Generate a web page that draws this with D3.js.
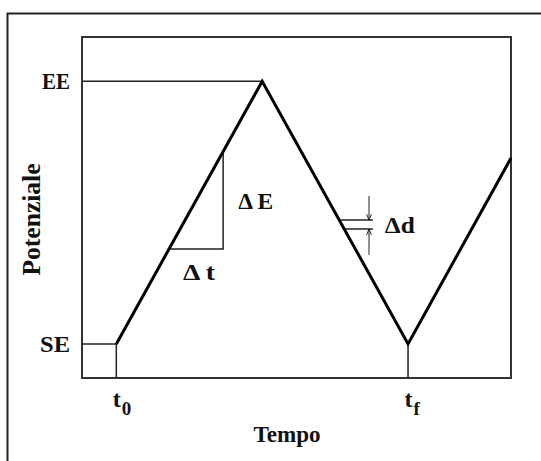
<!DOCTYPE html>
<html>
<head>
<meta charset="utf-8">
<script src="https://cdn.jsdelivr.net/npm/d3@7"></script>
<style>
  body { margin: 0; background: #fff; }
  text { font-family: "Liberation Serif", "DejaVu Serif", serif; font-weight: bold; fill: #111; }
</style>
</head>
<body>
<div id="chart"></div>
<script>
// potential levels (arbitrary units 0-100)
var levels = [10, 87];
var levelNames = ["SE", "EE"];
// time marks (arbitrary units 0-100)
var timeMarks = [8, 76];
var timeSubs = ["0", "f"];
// triangular sweep
var sweepT = [8, 42, 76, 100];
var sweepE = [10, 87, 10, 64.5];
// slope triangle (delta t / delta E)
var stepT = [20.3, 32.9];
var stepE = [37.8, 66.4];
// delta d step marks
var dStartT = [60.0, 61.1];
var dLevels = [46.3, 43.7];
var dEndT = 67.8;
var arrowT = 66.9;
var arrowFrom = [53.4, 36.1];

var margin = {top: 37, right: 30, bottom: 83, left: 82},
    width = 541 - margin.left - margin.right,
    height = 461 - margin.top - margin.bottom;

var x = d3.scaleLinear().domain([0, 100]).range([0, width]);
var y = d3.scaleLinear().domain([0, 100]).range([height, 0]);

var root = d3.select("#chart").append("svg")
    .attr("width", 541)
    .attr("height", 461);

// outer frame (left and top edges)
root.append("path")
    .attr("d", "M7.5,461V13.5H541")
    .attr("fill", "none")
    .attr("stroke", "#222")
    .attr("stroke-width", 2);

root.append("defs").append("marker")
    .attr("id", "arr")
    .attr("viewBox", "0 0 10 10")
    .attr("refX", 10).attr("refY", 5)
    .attr("markerWidth", 6).attr("markerHeight", 6)
    .attr("markerUnits", "userSpaceOnUse")
    .attr("orient", "auto")
  .append("path")
    .attr("d", "M0,1L10,5L0,9")
    .attr("fill", "none")
    .attr("stroke", "#111")
    .attr("stroke-width", 1.5);

var svg = root.append("g")
    .attr("transform", "translate(" + margin.left + "," + margin.top + ")");

// plot box
svg.append("rect")
    .attr("width", width)
    .attr("height", height)
    .attr("fill", "none")
    .attr("stroke", "#333")
    .attr("stroke-width", 2);

// squeezed bold serif text, like the original
function label(sel, size, len) {
  return sel.style("font-size", size + "px")
    .attr("textLength", len)
    .attr("lengthAdjust", "spacingAndGlyphs");
}

// y axis labels SE / EE
var yAxis = svg.append("g")
    .call(d3.axisLeft(y).tickValues(levels).tickSize(0).tickPadding(12)
      .tickFormat(function(d, i) { return levelNames[i]; }));
yAxis.select(".domain").remove();
yAxis.selectAll("text")
    .attr("font-family", null)
    .each(function(d, i) { label(d3.select(this), 23, i ? 28 : 30); });

// x axis labels t0 / tf
var xAxis = svg.append("g")
    .attr("transform", "translate(0," + height + ")")
    .call(d3.axisBottom(x).tickValues(timeMarks).tickSize(0)
      .tickFormat(function() { return ""; }));
xAxis.select(".domain").remove();
xAxis.selectAll("text")
    .attr("font-family", null)
    .attr("text-anchor", "start")
    .attr("x", -4)
    .attr("y", 29).attr("dy", null)
    .style("font-size", "24px")
    .each(function(d, i) {
      var t = d3.select(this);
      t.append("tspan").text("t");
      t.append("tspan").attr("dy", 8).attr("dx", 1).style("font-size", "19px").text(timeSubs[i]);
    });

// reference lines from box to SE / EE
svg.append("line")
    .attr("x1", 0).attr("x2", x(sweepT[1]))
    .attr("y1", y(levels[1])).attr("y2", y(levels[1]))
    .attr("stroke", "#222").attr("stroke-width", 1.5);
svg.append("line")
    .attr("x1", 0).attr("x2", x(timeMarks[0]))
    .attr("y1", y(levels[0])).attr("y2", y(levels[0]))
    .attr("stroke", "#222").attr("stroke-width", 1.5);
svg.selectAll(".tmark")
    .data(timeMarks)
    .enter().append("line")
    .attr("x1", function(d) { return x(d); })
    .attr("x2", function(d) { return x(d); })
    .attr("y1", height).attr("y2", y(levels[0]))
    .attr("stroke", "#222").attr("stroke-width", 1.5);

// slope triangle
svg.append("path")
    .attr("d", d3.line()([[x(stepT[0]), y(stepE[0])], [x(stepT[1]), y(stepE[0])], [x(stepT[1]), y(stepE[1])]]))
    .attr("fill", "none")
    .attr("stroke", "#222")
    .attr("stroke-width", 1.5);

// delta d lines
svg.selectAll(".dline")
    .data(dLevels)
    .enter().append("line")
    .attr("x1", function(d, i) { return x(dStartT[i]); })
    .attr("x2", x(dEndT))
    .attr("y1", function(d) { return y(d); })
    .attr("y2", function(d) { return y(d); })
    .attr("stroke", "#222").attr("stroke-width", 1.5);

svg.selectAll(".darrow")
    .data(dLevels)
    .enter().append("line")
    .attr("x1", x(arrowT)).attr("x2", x(arrowT))
    .attr("y1", function(d, i) { return y(arrowFrom[i]); })
    .attr("y2", function(d) { return y(d); })
    .attr("stroke", "#222").attr("stroke-width", 1)
    .attr("marker-end", "url(#arr)");

// sweep
svg.append("path")
    .datum(sweepT.map(function(t, i) { return [t, sweepE[i]]; }))
    .attr("d", d3.line().x(function(d) { return x(d[0]); }).y(function(d) { return y(d[1]); }))
    .attr("fill", "none")
    .attr("stroke", "#000")
    .attr("stroke-width", 3)
    .attr("stroke-linejoin", "miter");

// annotations
label(svg.append("text")
    .attr("x", x(stepT[1]) + 15).attr("y", y((stepE[0] + stepE[1]) / 2) + 9),
    24, 35).text("\u0394 E");
label(svg.append("text")
    .attr("x", x(stepT[0]) + 14).attr("y", y(stepE[0]) + 31),
    24, 32).text("\u0394 t");
label(svg.append("text")
    .attr("x", x(dEndT) + 12).attr("y", y(dLevels[1]) + 4),
    24, 30).text("\u0394d");

// axis titles
label(svg.append("text")
    .attr("text-anchor", "middle")
    .attr("transform", "translate(" + (width / 2 - 9.5) + "," + (height + 64) + ")"),
    24, 67).text("Tempo");

label(svg.append("text")
    .attr("text-anchor", "middle")
    .attr("transform", "translate(-42," + (height / 2 + 12) + ") rotate(-90)"),
    25, 112).text("Potenziale");
</script>
</body>
</html>
